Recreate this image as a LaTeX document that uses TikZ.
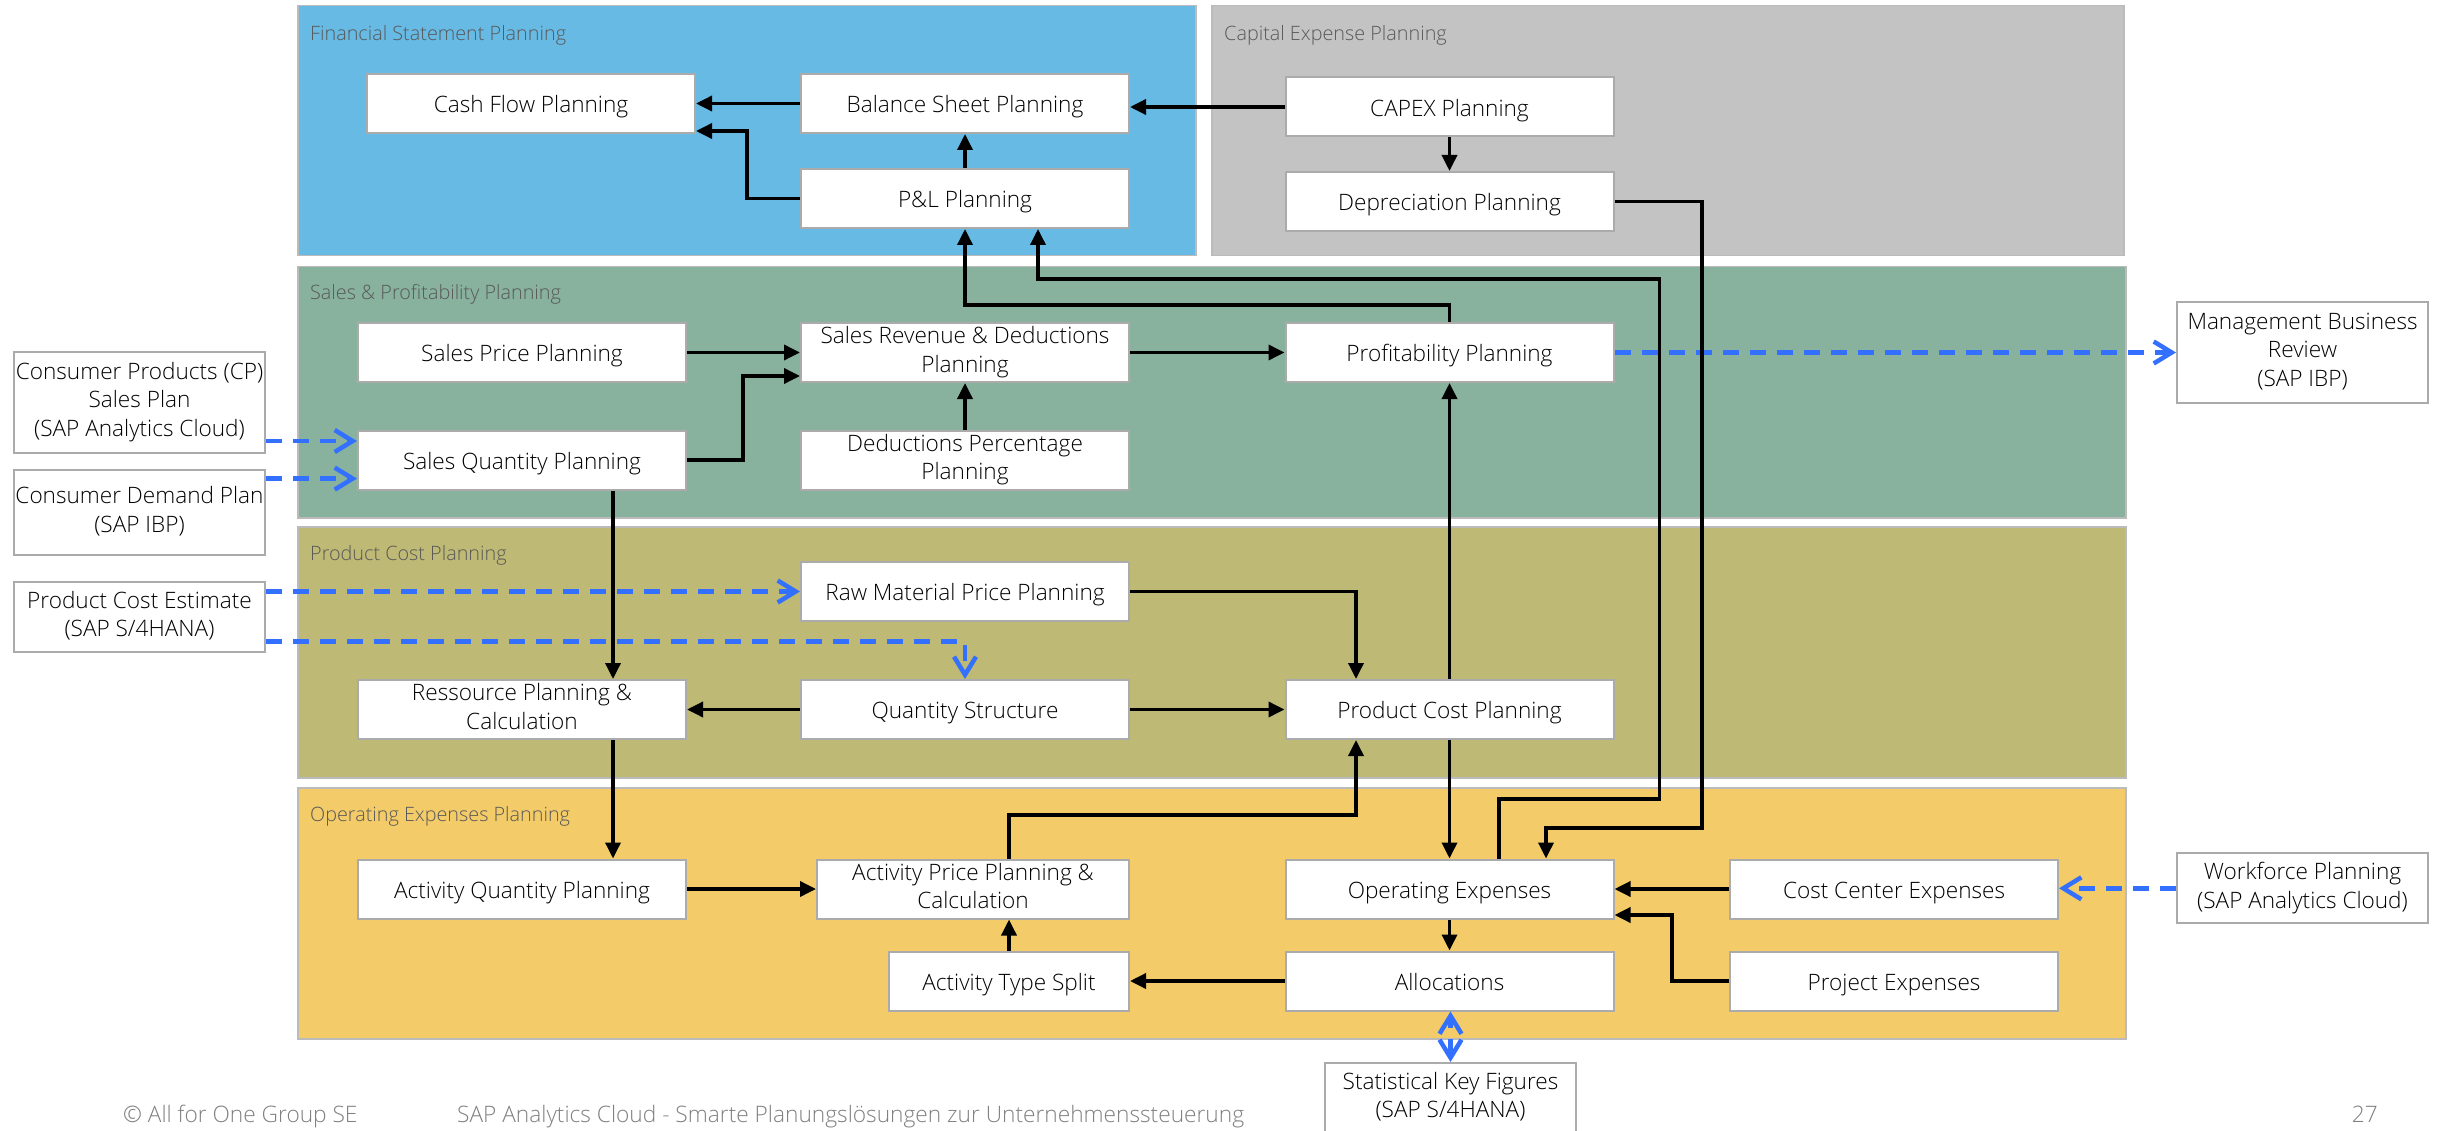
\documentclass[tikz,border=0pt]{standalone}
\usepackage{fontspec}
\IfFontExistsTF{Open Sans Light}{\setmainfont{Open Sans Light}}{\setmainfont{Open Sans}}
\usetikzlibrary{arrows.meta,calc}

\definecolor{fspblue}{HTML}{67BAE4}
\definecolor{capgray}{HTML}{C3C3C3}
\definecolor{salesgreen}{HTML}{88B29E}
\definecolor{costolive}{HTML}{BEB974}
\definecolor{opexyellow}{HTML}{F3CB68}
\definecolor{linkblue}{HTML}{3370FF}
\definecolor{boxedge}{HTML}{ABABAB}
\definecolor{paneledge}{HTML}{BBBBBB}
\definecolor{titlegray}{HTML}{595959}
\definecolor{footgray}{HTML}{808080}

% struts that keep the box texts optically centred
\newcommand{\firstlinestrut}{\rule{0pt}{24.8pt}}
\newcommand{\lastlinestrut}{\rule[-6.4pt]{0pt}{0pt}}

\begin{document}
\begin{tikzpicture}[x=1pt,y=-1pt,
  panel/.style={draw=paneledge, line width=1.5pt, inner sep=0pt, anchor=north west},
  paneltitle/.style={text=titlegray, font=\fontsize{19.8}{24}\selectfont, inner sep=0pt, anchor=base west},
  box/.style={draw=boxedge, fill=white, line width=2pt, inner sep=0pt, align=center,
    minimum width=328pt, minimum height=59pt, font=\fontsize{22.6}{28.5}\selectfont,
    execute at begin node=\firstlinestrut, execute at end node=\lastlinestrut},
  ext/.style={box, minimum width=251pt},
  flow/.style={draw=black, line width=3.5pt, -{Triangle[length=16pt,width=15pt]}},
  feedtip/.tip={Straight Barb[length=18pt,width=22pt]},
  feed/.style={draw=linkblue, line width=4.5pt, dash pattern=on 16pt off 11pt, -feedtip},
  foot/.style={anchor=base west, inner sep=0pt, text=footgray, font=\fontsize{22.7}{27}\selectfont},
]
% page
\fill[white] (0,0) rectangle (2440,1131);
\useasboundingbox (0,0) rectangle (2440,1131);

% planning areas
\node[panel, fill=fspblue, minimum width=898pt, minimum height=250pt] (pfsp) at (297,5) {};
\node[panel, fill=capgray, minimum width=912pt, minimum height=250pt] (pcap) at (1211,5) {};
\node[panel, fill=salesgreen, minimum width=1828pt, minimum height=251pt] (psales) at (297,266) {};
\node[panel, fill=costolive, minimum width=1828pt, minimum height=251pt] (pcost) at (297,526) {};
\node[panel, fill=opexyellow, minimum width=1828pt, minimum height=251pt] (popex) at (297,787) {};

\node[paneltitle] (tfsp) at ([xshift=13pt,yshift=-36pt]pfsp.north west) {Financial Statement Planning};
\node[paneltitle] (tcap) at ([xshift=13pt,yshift=-36pt]pcap.north west) {Capital Expense Planning};
\node[paneltitle] (tsales) at ([xshift=13pt,yshift=-34pt]psales.north west) {Sales \& Profitability Planning};
\node[paneltitle] (tcost) at ([xshift=13pt,yshift=-34pt]pcost.north west) {Product Cost Planning};
\node[paneltitle] (topex) at ([xshift=13pt,yshift=-34pt]popex.north west) {Operating Expenses Planning};

% planning steps
\node[box] (cf) at (531,103.5) {Cash Flow Planning};
\node[box] (bs) at (965,103.5) {Balance Sheet Planning};
\node[box] (pl) at (965,198.5) {P\&L Planning};
\node[box] (capex) at (1449.5,107) {CAPEX Planning};
\node[box] (dep) at (1449.5,201.5) {Depreciation Planning};
\node[box] (sp) at (522,352.5) {Sales Price Planning};
\node[box] (sr) at (965,352.5) {Sales Revenue \& Deductions\\Planning};
\node[box] (prof) at (1449.5,352.5) {Profitability Planning};
\node[box] (sq) at (522,460) {Sales Quantity Planning};
\node[box] (ded) at (965,460) {Deductions Percentage\\Planning};
\node[box] (rm) at (965,591.5) {Raw Material Price Planning};
\node[box] (res) at (522,709.5) {Ressource Planning \&\\Calculation};
\node[box] (qs) at (965,709.5) {Quantity Structure};
\node[box] (pc) at (1449.5,709.5) {Product Cost Planning};
\node[box] (aq) at (522,889) {Activity Quantity Planning};
\node[box, minimum width=312pt] (ap) at (973,889) {Activity Price Planning \&\\Calculation};
\node[box] (opex) at (1449.5,889) {Operating Expenses};
\node[box] (cce) at (1894,889) {Cost Center Expenses};
\node[box, minimum width=240pt] (ats) at (1009,981) {Activity Type Split};
\node[box] (alloc) at (1449.5,981) {Allocations};
\node[box] (proj) at (1894,981) {Project Expenses};

% external sources and targets
\node[ext, minimum height=101pt] (cp) at (139.5,402.5) {Consumer Products (CP)\\Sales Plan\\(SAP Analytics Cloud)};
\node[ext, minimum height=85pt] (cd) at (139.5,512.5) {Consumer Demand Plan\\(SAP IBP)};
\node[ext, minimum height=70.5pt] (pce) at (139.5,617) {Product Cost Estimate\\(SAP S/4HANA)};
\node[ext, minimum height=100.5pt] (mbr) at (2302.5,352.75) {Management Business\\Review\\(SAP IBP)};
\node[ext, minimum height=70pt] (wf) at (2302.5,888.3) {Workforce Planning\\(SAP Analytics Cloud)};
\node[ext, minimum height=70pt] (stat) at (1450.5,1098) {Statistical Key Figures\\(SAP S/4HANA)};

% data feeds from and to other systems
\draw[feed] ([yshift=-38.5pt]cp.east) -- ([yshift=19pt]sq.west);
\draw[feed] ([yshift=33.9pt]cd.east) -- ([yshift=-18.6pt]sq.west);
\draw[feed] ([yshift=25.5pt]pce.east) -- (rm.west);
\draw[feed] ([yshift=-24.6pt]pce.east) -| (qs.north);
\draw[feed] (prof.east) -- (prof.east -| mbr.west);
\draw[feed] (wf.west) -- (wf.west -| cce.east);
\draw[feed, feedtip-feedtip] (stat.north) -- (stat.north |- alloc.south);

% planning flow
\draw[flow] (bs.west) -- (cf.east);
\draw[flow] (pl.west) -- ++(-53,0) |- ([yshift=3pt]cf.south east);
\draw[flow] (pl.north) -- (bs.south);
\draw[flow] (capex.west) -- (capex.west -| bs.east);
\draw[flow] (capex.south) -- (dep.north);
\draw[flow] (dep.east) -| (1702,828) -| ([xshift=96.5pt]opex.north);
\draw[flow] (sp.east) -- (sr.west);
\draw[flow] (sq.east) -| (743,376) -- ([yshift=-23.5pt]sr.west);
\draw[flow] (ded.north) -- (sr.south);
\draw[flow] (sr.east) -- (prof.west);
\draw[flow] (prof.north) -- ++(0,-17) -| (pl.south);
\draw[flow] ([xshift=49.5pt]opex.north) |- (1659.5,799) |- (1038,279) -- ([xshift=73pt]pl.south);
\draw[flow] (pc.north) -- (prof.south);
\draw[flow] (pc.south) -- (opex.north);
\draw[flow] (rm.east) -| ([xshift=-93.5pt]pc.north);
\draw[flow] (qs.east) -- (pc.west);
\draw[flow] (qs.west) -- (res.east);
\draw[flow] ([xshift=91pt]sq.south) -- ([xshift=91pt]res.north);
\draw[flow] ([xshift=91pt]res.south) -- ([xshift=91pt]aq.north);
\draw[flow] (aq.east) -- (ap.west);
\draw[flow] (ats.north) -- (ats.north |- ap.south);
\draw[flow] (ats.north |- ap.north) |- (1356,815) -- ([xshift=-93.5pt]pc.south);
\draw[flow] (alloc.west) -- (ats.east);
\draw[flow] (opex.south) -- (alloc.north);
\draw[flow] (cce.west) -- (opex.east);
\draw[flow] (proj.west) -| (1672,915) -- ([yshift=-26pt]opex.east);

% footer
\node[foot] (copy) at (123,1122) {© All for One Group SE};
\node[foot] (ftitle) at (457,1122) {SAP Analytics Cloud - Smarte Planungslösungen zur Unternehmenssteuerung};
\node[foot, anchor=base east] (pageno) at (2378,1122) {27};
\end{tikzpicture}
\end{document}
